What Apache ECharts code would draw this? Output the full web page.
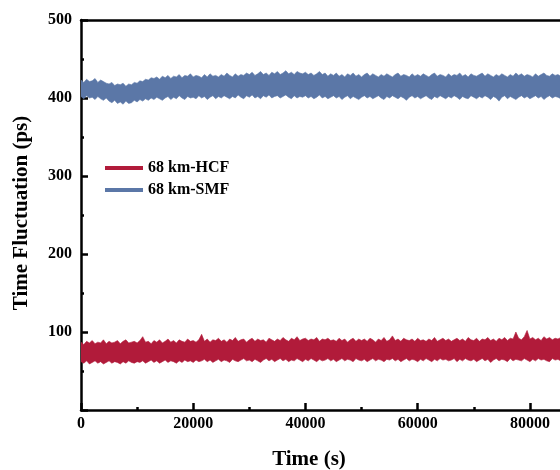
<!DOCTYPE html>
<html>
<head>
<meta charset="utf-8">
<script src="https://cdn.jsdelivr.net/npm/echarts@6/dist/echarts.min.js"></script>
<style>html,body{margin:0;padding:0;background:#fff}#c{width:560px;height:470px}</style>
</head>
<body>
<div id="c"></div>
<script>
// sampling step of the traces (s)
var timeStep = 500;
var seriesNames = ['68 km-HCF', '68 km-SMF'];
var xTicks = [0, 20000, 40000, 60000, 80000];
var yTicks = [100, 200, 300, 400, 500];

// 68 km-HCF band: upper / lower envelope (ps)
var hcfUpper = [87,84,88,86,89,85,87,86,90,85,
  88,86,87,89,85,88,90,86,87,88,
  86,89,94,87,88,85,89,87,90,86,
  88,91,87,89,86,90,88,87,91,88,
  89,87,90,97,88,91,87,90,89,92,
  88,90,87,91,89,93,88,90,91,87,
  90,92,88,91,89,90,87,92,90,88,
  91,89,93,90,88,92,90,94,89,91,
  92,89,91,90,93,88,91,90,92,89,
  90,88,92,89,91,87,90,92,88,91,
  89,91,88,92,90,87,91,89,93,88,
  90,95,89,91,88,92,90,89,91,88,
  92,89,90,88,91,89,93,88,90,92,
  89,91,88,90,92,89,91,88,93,90,
  89,92,88,91,90,93,89,91,88,92,
  90,93,89,92,91,100,92,90,94,102,
  91,93,90,92,89,94,91,93,90,92,
  91,93,92];
var hcfLower = [62,60,63,59,61,63,60,62,59,61,
  63,60,62,61,59,62,60,63,61,60,
  62,61,63,60,62,64,61,63,60,62,
  64,61,63,62,60,63,61,64,62,63,
  61,64,62,63,65,62,64,61,63,65,
  62,64,63,61,65,63,62,64,66,63,
  64,62,65,63,61,64,66,63,65,62,
  64,66,63,65,62,64,63,66,64,62,
  65,63,66,64,62,65,63,64,66,63,
  65,62,64,66,63,65,64,62,66,64,
  63,65,62,64,66,63,65,64,62,65,
  64,66,63,65,62,64,66,63,65,64,
  62,65,63,66,64,62,65,63,66,64,
  65,63,64,66,62,65,63,66,64,63,
  65,62,64,66,63,65,61,64,66,63,
  65,64,62,66,63,65,64,63,66,64,
  62,65,63,66,64,65,63,62,66,64,
  65,63,64];

// 68 km-SMF band: upper / lower envelope (ps)
var smfUpper = [423,420,424,421,422,425,420,423,421,419,
  418,420,416,418,417,419,415,418,417,420,
  419,422,421,424,423,426,425,427,424,428,
  426,429,425,428,427,430,426,429,428,431,
  427,429,428,426,430,427,431,428,429,427,
  430,428,432,429,427,431,428,430,429,432,
  430,433,429,431,434,430,432,429,433,431,
  434,430,432,435,431,433,430,434,432,431,
  433,430,432,429,431,434,430,432,428,431,
  429,432,428,430,427,431,429,432,428,430,
  427,430,432,428,431,429,427,430,428,431,
  429,427,430,432,428,430,429,427,431,428,
  430,428,431,429,427,430,432,428,430,429,
  427,431,428,430,429,432,428,430,427,431,
  429,428,430,432,428,431,429,427,430,428,
  431,429,427,430,428,432,429,431,428,430,
  429,427,431,428,430,432,429,428,431,429,
  430,428,431];
var smfLower = [402,399,403,400,401,398,402,399,397,400,
  396,394,397,393,395,392,396,393,394,397,
  395,398,396,399,397,400,398,401,399,397,
  400,402,398,401,399,403,400,398,402,400,
  401,399,403,400,402,398,401,403,399,402,
  400,403,401,399,402,400,404,401,399,403,
  401,404,400,402,399,403,401,404,400,402,
  403,400,402,404,401,399,403,400,402,401,
  403,400,402,399,401,404,400,402,399,401,
  403,400,402,398,401,403,399,402,400,398,
  401,403,400,402,399,401,403,400,398,402,
  400,403,401,399,402,400,397,401,403,400,
  402,399,401,403,400,398,402,400,403,401,
  399,402,400,403,401,398,402,400,399,403,
  401,399,402,400,403,401,398,402,400,396,
  401,403,399,402,400,398,401,403,400,402,
  399,401,403,400,402,398,401,403,400,402,
  401,399,402];

var colors = ['#B11B3A', '#5B77A7'];
var serif = "'Times New Roman','Liberation Serif',serif";

function band(name, up, lo, color) {
  return {
    name: name, type: 'custom', coordinateSystem: 'cartesian2d',
    data: [[0, lo[0]]], itemStyle: { color: color }, clip: true, z: 3,
    renderItem: function (params, api) {
      var pts = [], i;
      for (i = 0; i < up.length; i++) pts.push(api.coord([i * timeStep, up[i]]));
      for (i = lo.length - 1; i >= 0; i--) pts.push(api.coord([i * timeStep, lo[i]]));
      return { type: 'polygon', shape: { points: pts },
        style: { fill: color, stroke: color, lineWidth: 0.6 } };
    }
  };
}

var chart = echarts.init(document.getElementById('c'), null, { renderer: 'canvas' });
var axisLine = { show: true, onZero: false, lineStyle: { color: '#000', width: 2.5 } };
chart.setOption({
  animation: false,
  backgroundColor: '#fff',
  grid: { left: 81, top: 20, bottom: 60, right: -26, containLabel: false, outerBoundsMode: 'none' },
  legend: {
    data: seriesNames.map(function (n) { return { name: n, icon: 'rect' }; }),
    orient: 'vertical', left: 100, top: 154, itemWidth: 38, itemHeight: 4, itemGap: 4,
    textStyle: { fontFamily: serif, fontWeight: 'bold', fontSize: 16, color: '#000', lineHeight: 18 }
  },
  xAxis: [{
    type: 'value', min: 0, max: 90000, interval: 20000,
    axisLine: axisLine,
    axisTick: { show: true, inside: true, length: 7, lineStyle: { width: 2.5, color: '#000' } },
    minorTick: { show: true, splitNumber: 2, length: 3, lineStyle: { width: 2.5, color: '#000' } },
    splitLine: { show: false },
    axisLabel: { margin: 6, fontFamily: serif, fontWeight: 'bold', fontSize: 16, color: '#000',
      formatter: function (v) { return xTicks.indexOf(v) >= 0 ? String(v) : ''; } }
  }, {
    type: 'value', min: 0, max: 90000, position: 'top',
    axisLine: axisLine, axisTick: { show: false }, axisLabel: { show: false }, splitLine: { show: false }
  }],
  yAxis: {
    type: 'value', min: 0, max: 500, interval: 100,
    axisLine: axisLine,
    axisTick: { show: true, inside: true, length: 7, lineStyle: { width: 2.5, color: '#000' } },
    minorTick: { show: true, splitNumber: 2, length: 3, lineStyle: { width: 2.5, color: '#000' } },
    splitLine: { show: false },
    axisLabel: { margin: 9, fontFamily: serif, fontWeight: 'bold', fontSize: 16, color: '#000',
      formatter: function (v) { return yTicks.indexOf(v) >= 0 ? String(v) : ''; } }
  },
  graphic: [
    { type: 'text', x: 22, y: 213, rotation: Math.PI / 2,
      style: { text: 'Time Fluctuation (ps)', font: 'bold 21px ' + serif, fill: '#000',
        align: 'center', verticalAlign: 'middle' } },
    { type: 'text', x: 309, y: 460,
      style: { text: 'Time (s)', font: 'bold 21px ' + serif, fill: '#000',
        align: 'center', verticalAlign: 'middle' } }
  ],
  series: [band(seriesNames[0], hcfUpper, hcfLower, colors[0]),
           band(seriesNames[1], smfUpper, smfLower, colors[1])]
});
</script>
</body>
</html>
